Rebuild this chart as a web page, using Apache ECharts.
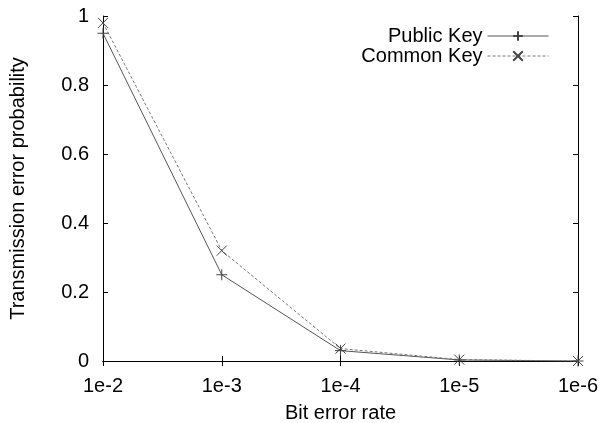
<!DOCTYPE html>
<html>
<head>
<meta charset="utf-8">
<script src="https://cdn.jsdelivr.net/npm/echarts@6/dist/echarts.min.js"></script>
<style>
html, body { margin: 0; padding: 0; background: #fff; }
#chart { width: 604px; height: 423px; }
</style>
</head>
<body>
<div id="chart"></div>
<script>
var categories = ['1e-2', '1e-3', '1e-4', '1e-5', '1e-6'];
var publicKey = [0.95, 0.25, 0.03, 0.003, 0.0];
var commonKey = [0.98, 0.32, 0.036, 0.004, 0.0];

var font = 'Liberation Sans';
var plusPath = 'path://M5,0L5,10M0,5L10,5';
var crossPath = 'path://M0,0L10,10M10,0L0,10';

var myChart = echarts.init(document.getElementById('chart'));

var option = {
    backgroundColor: '#fff',
    animation: false,
    grid: {
        left: 103,
        right: 26,
        top: 16,
        bottom: 62,
        outerBoundsMode: 'none',
        containLabel: false
    },
    legend: [
        {
            data: ['Public Key'],
            right: 50,
            top: 21,
            align: 'right',
            itemWidth: 61,
            itemHeight: 12,
            itemGap: 10,
            lineStyle: { width: 1 },
            textStyle: { fontFamily: font, fontSize: 20, color: '#000' }
        },
        {
            data: ['Common Key'],
            right: 50,
            top: 41,
            align: 'right',
            itemWidth: 61,
            itemHeight: 12,
            lineStyle: { width: 1 },
            textStyle: { fontFamily: font, fontSize: 20, color: '#000' }
        }
    ],
    xAxis: [
        {
            type: 'category',
            data: categories,
            boundaryGap: false,
            name: 'Bit error rate',
            nameLocation: 'middle',
            nameGap: 42,
            nameTextStyle: { fontFamily: font, fontSize: 20, color: '#000' },
            axisLine: { lineStyle: { color: '#000', width: 1 } },
            axisTick: { inside: true, length: 5, lineStyle: { color: '#000' } },
            axisLabel: { fontFamily: font, fontSize: 20, color: '#000', margin: 15 },
            splitLine: { show: false }
        },
        {
            type: 'category',
            data: categories,
            boundaryGap: false,
            position: 'top',
            axisLine: { lineStyle: { color: '#000', width: 1 } },
            axisTick: { inside: true, length: 5, lineStyle: { color: '#000' } },
            axisLabel: { show: false },
            splitLine: { show: false }
        }
    ],
    yAxis: [
        {
            type: 'value',
            min: 0,
            max: 1,
            interval: 0.2,
            name: 'Transmission error probability',
            nameLocation: 'middle',
            nameGap: 75,
            nameTextStyle: { fontFamily: font, fontSize: 20, color: '#000' },
            axisLine: { show: true, lineStyle: { color: '#000', width: 1 } },
            axisTick: { show: true, inside: true, length: 5, lineStyle: { color: '#000' } },
            axisLabel: { fontFamily: font, fontSize: 20, color: '#000', margin: 14 },
            splitLine: { show: false }
        },
        {
            type: 'value',
            min: 0,
            max: 1,
            interval: 0.2,
            position: 'right',
            axisLine: { show: true, lineStyle: { color: '#000', width: 1 } },
            axisTick: { show: true, inside: true, length: 5, lineStyle: { color: '#000' } },
            axisLabel: { show: false },
            splitLine: { show: false }
        }
    ],
    series: [
        {
            name: 'Public Key',
            type: 'line',
            data: publicKey,
            symbol: plusPath,
            symbolSize: 11,
            showAllSymbol: true,
            lineStyle: { color: '#555', width: 1, type: 'solid' },
            itemStyle: { color: 'none', borderColor: '#444', borderWidth: 1 }
        },
        {
            name: 'Common Key',
            type: 'line',
            data: commonKey,
            symbol: crossPath,
            symbolSize: 10,
            showAllSymbol: true,
            lineStyle: { color: '#777', width: 1, type: [3, 2] },
            itemStyle: { color: 'none', borderColor: '#444', borderWidth: 1 }
        }
    ]
};

myChart.setOption(option);

window.addEventListener('resize', function() {
    myChart.resize();
});
</script>
</body>
</html>
